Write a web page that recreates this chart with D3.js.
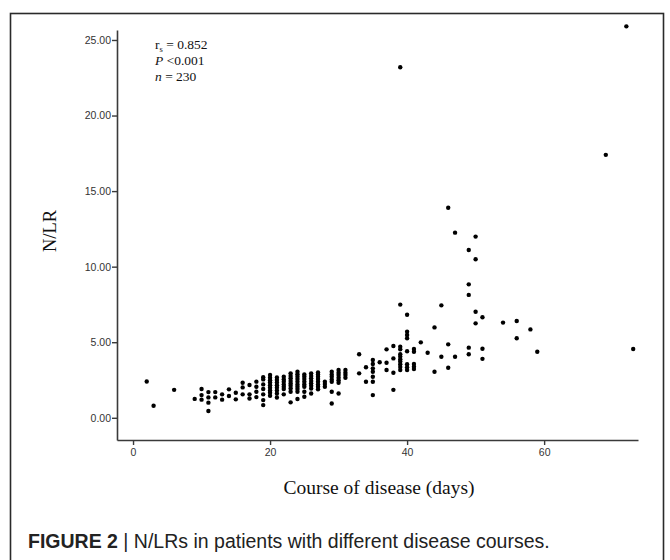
<!DOCTYPE html>
<html>
<head>
<meta charset="utf-8">
<script src="https://cdn.jsdelivr.net/npm/d3@7"></script>
<style>
  html, body { margin: 0; padding: 0; background: #fff; }
  svg { display: block; }
</style>
</head>
<body>
<div id="chart"></div>
<script>
// ---- data ----
const courseDays = [2, 3, 6, 9, 10, 11, 12, 13, 14, 15, 16, 17, 18, 19, 20, 21, 22, 23, 24, 25, 26, 27, 28, 29, 30, 31,
  33, 34, 35, 36, 37, 38, 39, 40, 41, 42, 43, 44, 45, 46, 47, 49, 50, 51, 54, 56, 58, 59, 69, 72, 73];
const nlrByDay = [
  [2.4], [0.8], [1.85], [1.25],
  [1.9, 1.5, 1.2],
  [1.7, 1.35, 1.0, 0.45],
  [1.7, 1.35],
  [1.55, 1.2],
  [1.88, 1.44],
  [1.66, 1.22],
  [2.32, 2.01, 1.55],
  [2.17, 1.55, 1.28],
  [2.39, 2.05, 1.72, 1.37],
  [2.69, 2.54, 2.21, 1.9, 1.55, 1.17, 0.84],
  [2.83, 2.65, 2.49, 2.34, 2.16, 1.99, 1.81, 1.66, 1.46],
  [2.67, 2.5, 2.34, 2.16, 1.99, 1.81, 1.61, 1.34],
  [2.72, 2.54, 2.39, 2.21, 2.05, 1.9, 1.55],
  [2.94, 2.76, 2.61, 2.43, 2.27, 2.12, 1.94, 1.72, 1.02],
  [3.05, 2.88, 2.72, 2.56, 2.39, 2.21, 2.05, 1.9, 1.72, 1.24],
  [2.87, 2.72, 2.56, 2.38, 2.21, 2.05, 1.72, 1.39],
  [2.94, 2.76, 2.61, 2.43, 2.28, 2.12, 1.94, 1.61],
  [3.0, 2.87, 2.72, 2.56, 2.38, 2.21, 2.05, 1.88],
  [2.38, 2.23, 2.05],
  [3.05, 2.87, 2.72, 2.54, 2.38, 1.72, 0.95],
  [3.16, 2.98, 2.83, 2.65, 2.49, 2.32, 1.61],
  [3.16, 2.98, 2.83, 2.65],
  [4.2, 2.94],
  [3.34, 2.38],
  [3.82, 3.56, 3.27, 3.05, 2.72, 2.38, 1.5],
  [3.67],
  [4.53, 3.64, 3.16],
  [4.75, 3.93, 2.98, 1.85],
  [23.2, 7.49, 4.7, 4.53, 4.2, 4.05, 3.88, 3.73, 3.55, 3.36, 3.16],
  [6.82, 5.7, 5.48, 5.26, 4.4, 3.54, 3.34, 3.16],
  [4.55, 4.37, 3.56, 3.38, 3.22],
  [4.99], [4.3], [5.98, 3.05], [7.44, 4.04],
  [13.9, 4.86, 3.31],
  [12.25, 4.04],
  [11.1, 8.83, 8.13, 4.64, 4.2],
  [11.99, 10.49, 7.02, 6.25],
  [6.65, 4.57, 3.9],
  [6.3], [6.4, 5.26], [5.85], [4.37],
  [17.4], [25.9], [4.55]
];
const yTicks = [0, 5, 10, 15, 20, 25];
const xTicks = [0, 20, 40, 60];
const statLines = ["0.852", "<0.001", "230"];
const xTitle = "Course of disease (days)";
const yTitle = "N/LR";
const captionBold = "FIGURE 2";
const captionText = "N/LRs in patients with different disease courses.";

const points = [];
courseDays.forEach((d, i) => nlrByDay[i].forEach(v => points.push({ day: d, nlr: v })));

// ---- drawing ----
const W = 670, H = 560;
const svg = d3.select("#chart").append("svg").attr("width", W).attr("height", H);
svg.append("rect").attr("width", W).attr("height", H).attr("fill", "#fff");

// outer frame
svg.append("rect").attr("x", 10.5).attr("y", 13.5).attr("width", 653).attr("height", 600)
  .attr("fill", "none").attr("stroke", "#2a2a2a").attr("stroke-width", 1.6);

const x = d3.scaleLinear().domain([-2.34, 73.7]).range([117, 638]);
const y = d3.scaleLinear().domain([-1.47, 25.66]).range([440, 30]);

const axisColor = "#3a3a3a";
const sans = "Liberation Sans, Arial, sans-serif";
const serif = "Liberation Serif, Times New Roman, serif";
const gx = svg.append("g").attr("transform", "translate(0,440)")
  .call(d3.axisBottom(x).tickValues(xTicks).tickFormat(d3.format("d")).tickSize(5).tickSizeOuter(0).tickPadding(4));
const gy = svg.append("g").attr("transform", "translate(117,0)")
  .call(d3.axisLeft(y).tickValues(yTicks).tickFormat(d3.format(".2f")).tickSize(5).tickSizeOuter(0).tickPadding(1));
[gx, gy].forEach(g => {
  g.select(".domain").attr("stroke", axisColor).attr("stroke-width", 1.6);
  g.selectAll(".tick line").attr("stroke", axisColor).attr("stroke-width", 1.4);
  g.selectAll(".tick text").attr("fill", "#333").attr("font-family", sans).attr("font-size", 10.5);
});

// points
svg.append("g").selectAll("circle").data(points).join("circle")
  .attr("cx", d => x(d.day)).attr("cy", d => y(d.nlr)).attr("r", 2.2).attr("fill", "#000");

// axis titles
svg.append("text").attr("x", 379).attr("y", 494).attr("text-anchor", "middle")
  .attr("font-family", serif).attr("font-size", 19.5).attr("fill", "#111")
  .text(xTitle);
svg.append("text").attr("transform", "translate(56,231) rotate(-90)").attr("text-anchor", "middle")
  .attr("font-family", serif).attr("font-size", 18.5).attr("fill", "#111")
  .text(yTitle);

// statistics annotation
const ann = svg.append("g").attr("font-family", serif).attr("font-size", 13.5).attr("fill", "#111");
const t1 = ann.append("text").attr("x", 155).attr("y", 49);
t1.append("tspan").text("r");
t1.append("tspan").attr("font-size", 8.5).attr("dy", 2.5).text("s");
t1.append("tspan").attr("dy", -2.5).text(" = " + statLines[0]);
const t2 = ann.append("text").attr("x", 155).attr("y", 65);
t2.append("tspan").attr("font-style", "italic").text("P");
t2.append("tspan").text(" " + statLines[1]);
const t3 = ann.append("text").attr("x", 155).attr("y", 81);
t3.append("tspan").attr("font-style", "italic").text("n");
t3.append("tspan").text(" = " + statLines[2]);

// caption
const cap = svg.append("text").attr("x", 28).attr("y", 548)
  .attr("font-family", sans).attr("font-size", 19.5).attr("fill", "#222");
cap.append("tspan").attr("font-weight", "bold").text(captionBold + " ");
cap.append("tspan").text("| " + captionText);
</script>
</body>
</html>
